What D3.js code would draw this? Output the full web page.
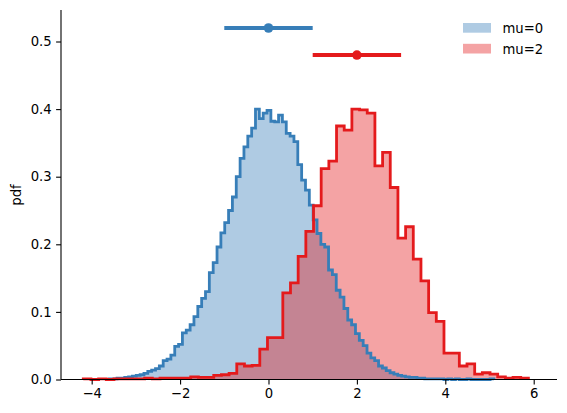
<!DOCTYPE html>
<html>
<head>
<meta charset="utf-8">
<script src="https://cdn.jsdelivr.net/npm/d3@7"></script>
<style>
    body { margin: 0; background: #fff; }
    svg { display: block; font-family: "DejaVu Sans", sans-serif; }
    .axis path, .axis line { stroke: #000; stroke-width: 1.1px; }
    .axis text { font-size: 13.2px; fill: #000; font-family: "DejaVu Sans", sans-serif; }
</style>
</head>
<body>
<script>
//wrap everything
(function(){

    //series names
    var seriesNames = ["mu=0", "mu=2"];

    //blue histogram (mu=0): 100 bins between -3.6 and 5.1
    var blueRange = [-3.6, 5.1];
    var blueHeights = [0.001, 0.001, 0.002, 0.002, 0.003, 0.004, 0.005, 0.006, 0.007, 0.009,
        0.012, 0.014, 0.016, 0.020, 0.028, 0.030, 0.036, 0.049, 0.052, 0.069,
        0.073, 0.081, 0.093, 0.108, 0.120, 0.130, 0.158, 0.173, 0.196, 0.217,
        0.232, 0.250, 0.270, 0.300, 0.327, 0.344, 0.360, 0.372, 0.400, 0.386,
        0.394, 0.398, 0.382, 0.381, 0.391, 0.381, 0.364, 0.360, 0.352, 0.318,
        0.295, 0.280, 0.258, 0.236, 0.216, 0.200, 0.196, 0.162, 0.155, 0.132,
        0.122, 0.105, 0.088, 0.081, 0.068, 0.058, 0.050, 0.039, 0.032, 0.028,
        0.020, 0.017, 0.013, 0.010, 0.008, 0.006, 0.005, 0.004, 0.003, 0.003,
        0.002, 0.002, 0.001, 0.001, 0.001, 0.001, 0.001, 0.000, 0.001, 0.000,
        0.001, 0.000, 0.000, 0.001, 0.000, 0.000, 0.000, 0.000, 0.000, 0.001];

    //red histogram (mu=2): 58 bins between -4.19 and 5.88
    var redRange = [-4.19, 5.88];
    var redHeights = [0.001, 0.000, 0.001, 0.000, 0.001, 0.001, 0.001, 0.001, 0.002, 0.001,
        0.002, 0.002, 0.002, 0.002, 0.004, 0.003, 0.003, 0.006, 0.007, 0.009,
        0.023, 0.020, 0.021, 0.045, 0.062, 0.062, 0.128, 0.143, 0.182, 0.219,
        0.257, 0.312, 0.323, 0.375, 0.369, 0.400, 0.399, 0.394, 0.316, 0.336,
        0.284, 0.209, 0.226, 0.178, 0.146, 0.099, 0.086, 0.039, 0.039, 0.020,
        0.023, 0.008, 0.010, 0.008, 0.004, 0.002, 0.003, 0.002];

    //mean +/- std markers
    var markMeans = [0, 2];
    var markStd = [1, 1];
    var markLevels = [0.52, 0.48];

    //axis ticks
    var xTicks = [-4, -2, 0, 2, 4, 6];
    var yTicks = [0, 0.1, 0.2, 0.3, 0.4, 0.5];

    //colors
    var lineColors = ["#377eb8", "#e41a1c"];

    window.onload = drawChart();

    function drawChart(){
        var width = 567,
            height = 413,
            margin = {top: 10, right: 10, bottom: 33.5, left: 61};

        var svg = d3.select("body")
            .append("svg")
            .attr("width", width)
            .attr("height", height);

        //scales
        var x = d3.scaleLinear()
            .domain([-4.694, 6.527])
            .range([margin.left, width - margin.right]);

        var y = d3.scaleLinear()
            .domain([0, 0.5466])
            .range([height - margin.bottom, margin.top]);

        //turn bin heights into step outline points
        function stepPoints(range, heights){
            var w = (range[1] - range[0]) / heights.length;
            var pts = [[range[0], 0]];
            heights.forEach(function(h, i){
                pts.push([range[0] + i * w, h]);
                pts.push([range[0] + (i + 1) * w, h]);
            });
            pts.push([range[1], 0]);
            return pts;
        };

        var hists = [stepPoints(blueRange, blueHeights), stepPoints(redRange, redHeights)];

        var line = d3.line()
            .x(function(d){ return x(d[0]); })
            .y(function(d){ return y(d[1]); });

        var area = d3.area()
            .x(function(d){ return x(d[0]); })
            .y0(y(0))
            .y1(function(d){ return y(d[1]); });

        //filled histograms first
        hists.forEach(function(pts, i){
            svg.append("path")
                .datum(pts)
                .attr("d", area)
                .attr("fill", lineColors[i])
                .attr("fill-opacity", 0.4);
        });

        //step outlines on top
        hists.forEach(function(pts, i){
            svg.append("path")
                .datum(pts)
                .attr("d", line)
                .attr("fill", "none")
                .attr("stroke", lineColors[i])
                .attr("stroke-width", 2.8)
                .attr("stroke-linejoin", "miter");
        });

        //mean +/- std bars
        markMeans.forEach(function(m, i){
            svg.append("line")
                .attr("x1", x(m - markStd[i]))
                .attr("x2", x(m + markStd[i]))
                .attr("y1", y(markLevels[i]))
                .attr("y2", y(markLevels[i]))
                .attr("stroke", lineColors[i])
                .attr("stroke-width", 4.2);
            svg.append("circle")
                .attr("cx", x(m))
                .attr("cy", y(markLevels[i]))
                .attr("r", 4.8)
                .attr("fill", lineColors[i]);
        });

        //axes
        svg.append("g")
            .attr("class", "axis")
            .attr("transform", "translate(0," + (height - margin.bottom) + ")")
            .call(d3.axisBottom(x).tickValues(xTicks).tickSize(4.9).tickPadding(4.5)
                .tickFormat(function(d){ return d3.format("d")(d).replace("-", "\u2212"); }))
            .call(function(g){ g.select(".domain").attr("d", "M" + margin.left + ",0H" + (width - margin.right)); });

        svg.append("g")
            .attr("class", "axis")
            .attr("transform", "translate(" + margin.left + ",0)")
            .call(d3.axisLeft(y).tickValues(yTicks).tickSize(4.9).tickPadding(4.5)
                .tickFormat(d3.format(".1f")))
            .call(function(g){ g.select(".domain").attr("d", "M0," + margin.top + "V" + (height - margin.bottom)); });

        //y label
        svg.append("text")
            .attr("transform", "translate(21," + y(0.273) + ") rotate(-90)")
            .attr("text-anchor", "middle")
            .attr("font-size", "13.2px")
            .text("pdf");

        //legend
        var legend = svg.append("g")
            .attr("transform", "translate(463,23)");

        seriesNames.forEach(function(name, i){
            legend.append("rect")
                .attr("x", 0)
                .attr("y", i * 20.8)
                .attr("width", 28)
                .attr("height", 9.7)
                .attr("fill", lineColors[i])
                .attr("fill-opacity", 0.4);
            legend.append("text")
                .attr("x", 39.5)
                .attr("y", i * 20.8 + 10)
                .attr("font-size", "13.2px")
                .text(name);
        });
    };

})();
</script>
</body>
</html>
